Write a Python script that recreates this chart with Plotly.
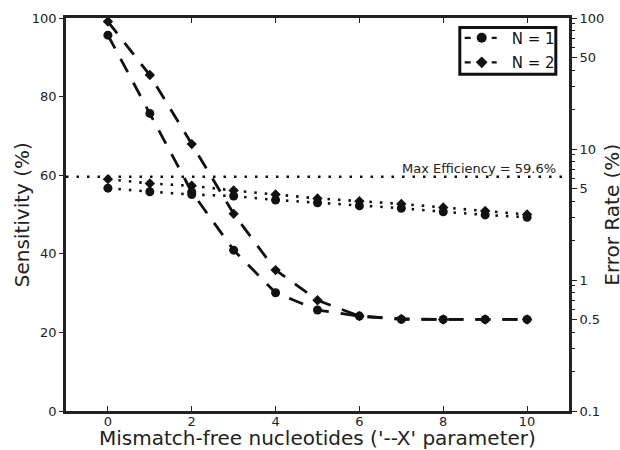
import plotly.graph_objects as go

# ---- data ----
x_vals = [0, 1, 2, 3, 4, 5, 6, 7, 8, 9, 10]
sens_n1 = [56.7, 55.8, 55.1, 54.7, 53.7, 53.0, 52.2, 51.6, 50.7, 49.9, 49.3]
sens_n2 = [59.0, 57.9, 57.3, 56.1, 55.1, 54.1, 53.4, 52.7, 51.8, 50.9, 50.0]
err_n1 = [74.0, 18.7, 4.7, 1.69, 0.80, 0.59, 0.53, 0.50, 0.50, 0.50, 0.50]
err_n2 = [94.0, 36.7, 10.9, 3.2, 1.19, 0.70, 0.53, 0.505, 0.50, 0.50, 0.50]
max_eff = 59.6
series_names = ["N = 1", "N = 2"]
x_ticks = [0, 2, 4, 6, 8, 10]
y_ticks = [0, 20, 40, 60, 80, 100]
err_ticks = [0.1, 0.5, 1, 5, 10, 50, 100]
err_tick_text = ["0.1", "0.5", "1", "5", "10", "50", "100"]
err_minor = [0.2, 0.3, 0.4, 0.6, 0.7, 0.8, 0.9, 2, 3, 4, 6, 7, 8, 9,
             20, 30, 40, 60, 70, 80, 90]

INK = "#111111"
AX = "#222222"
FONT = "DejaVu Sans"
DASH = "15px,12px"
DOT = "2.5px,8px"
symbols = ["circle", "diamond"]
msizes = [9, 8]

fig = go.Figure()

for sens, err, sym, ms in [(sens_n1, err_n1, symbols[0], msizes[0]),
                           (sens_n2, err_n2, symbols[1], msizes[1])]:
    fig.add_trace(go.Scatter(
        x=x_vals, y=sens, mode="lines+markers", showlegend=False,
        line=dict(color=INK, width=2.6, dash=DOT),
        marker=dict(symbol=sym, size=ms, color=INK), yaxis="y"))
    fig.add_trace(go.Scatter(
        x=x_vals, y=err, mode="lines+markers", showlegend=False,
        line=dict(color=INK, width=2.8, dash=DASH),
        marker=dict(symbol=sym, size=ms, color=INK), yaxis="y2"))

# legend-only entries
for name, sym, ms in zip(series_names, symbols, msizes):
    fig.add_trace(go.Scatter(
        x=[None], y=[None], mode="lines+markers", name=name,
        legendgroup=name,
        line=dict(color=INK, width=2.2, dash="0px,8px,6px,21px,5px,40px"),
        marker=dict(symbol=sym, size=ms + 1, color=INK), yaxis="y"))

fig.add_shape(type="line", xref="paper", x0=0, x1=1, yref="y",
              y0=max_eff, y1=max_eff,
              line=dict(color=INK, width=2.6, dash=DOT))

# legend frame (decoration)
fig.add_shape(type="rect", xref="paper", yref="paper",
              x0=0.7829, x1=0.9738, y0=0.8570, y1=0.9758,
              line=dict(color=INK, width=3), fillcolor="white",
              layer="above")

fig.add_annotation(text=f"Max Efficiency = {max_eff}%", xref="paper",
                   x=0.978, xanchor="right", yref="y", y=max_eff,
                   yanchor="bottom", yshift=-1, showarrow=False,
                   font=dict(family=FONT, size=13, color=AX))

# axis titles
fig.add_annotation(text="Mismatch-free nucleotides ('--X' parameter)",
                   xref="paper", yref="paper", x=0.5, y=-0.069,
                   xanchor="center", yanchor="middle", showarrow=False,
                   font=dict(family=FONT, size=20, color=AX))
fig.add_annotation(text="Sensitivity (%)", xref="paper", yref="paper",
                   x=-0.088, y=0.5, textangle=-90, xanchor="center",
                   yanchor="middle", showarrow=False,
                   font=dict(family=FONT, size=20, color=AX))
fig.add_annotation(text="Error Rate (%)", xref="paper", yref="paper",
                   x=1.084, y=0.5, textangle=-90, xanchor="center",
                   yanchor="middle", showarrow=False,
                   font=dict(family=FONT, size=20, color=AX))

fig.update_layout(
    width=620, height=450,
    margin=dict(l=66, r=51, t=18, b=39),
    paper_bgcolor="white", plot_bgcolor="white",
    font=dict(family=FONT, size=13, color=AX),
    xaxis=dict(range=[-1, 11], tickvals=x_ticks, ticks="inside",
               ticklen=5, tickwidth=1.2, tickcolor=AX,
               ticklabelstandoff=-3,
               showline=True, linecolor=AX, linewidth=2.6, mirror="ticks",
               showgrid=False, zeroline=False,
               tickfont=dict(family=FONT, size=13, color=AX)),
    yaxis=dict(range=[0, 100], tickvals=y_ticks, ticks="outside",
               ticklen=4, tickwidth=1.2, tickcolor=AX,
               showline=True, linecolor=AX, linewidth=2.6,
               showgrid=False, zeroline=False,
               tickfont=dict(family=FONT, size=13, color=AX)),
    yaxis2=dict(type="log", range=[-1, 2], overlaying="y", side="right",
                tickvals=err_ticks, ticktext=err_tick_text,
                ticks="outside", ticklen=5, tickwidth=1.2, tickcolor=AX,
                minor=dict(tickvals=err_minor, ticks="outside", ticklen=3,
                           tickwidth=1, tickcolor=AX, showgrid=False),
                showline=True, linecolor=AX, linewidth=2.6,
                showgrid=False, zeroline=False,
                tickfont=dict(family=FONT, size=13, color=AX)),
    legend=dict(x=0.7668, y=0.991, xanchor="left", yanchor="top",
                bgcolor="rgba(0,0,0,0)", borderwidth=0,
                font=dict(family=FONT, size=15, color=INK),
                itemwidth=50, tracegroupgap=2),
    showlegend=True,
)

fig.write_html("out.html", config={"displayModeBar": False},
               post_script="document.body.style.margin='0px';")
